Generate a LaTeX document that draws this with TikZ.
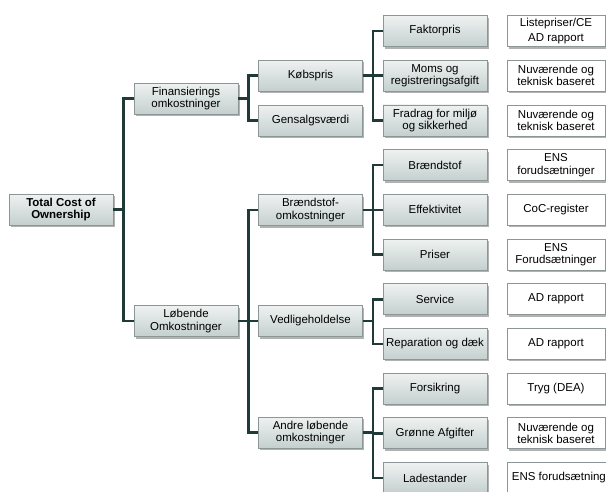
\documentclass[tikz,border=0pt]{standalone}
\usepackage{fontspec}
\setmainfont{Liberation Sans}
\usetikzlibrary{shadows}
\definecolor{linkcol}{RGB}{31,58,55}
\definecolor{boxtop}{RGB}{238,242,241}
\definecolor{boxbot}{RGB}{196,208,206}
\definecolor{boxline}{RGB}{140,150,150}
\tikzset{
	cell/.style={draw=boxline,line width=0.8pt,minimum width=104pt,minimum height=31pt,inner sep=1pt,align=center,
		font=\fontsize{11.5}{12.3}\selectfont,
		drop shadow={shadow xshift=1.5pt,shadow yshift=-2pt,opacity=0.3,fill=black}},
	part/.style={cell,top color=boxtop,bottom color=boxbot},
	source/.style={cell,fill=white,minimum width=98pt},
	link/.style={line width=2.6pt,draw=linkcol,line join=miter}
}

\begin{document}
\begin{tikzpicture}[x=1pt,y=-1pt]
		\useasboundingbox (0,0) rectangle (606,491);
		\clip (0,0) rectangle (606,491);
		% tree
		\node[part,font=\fontsize{11.5}{12.3}\selectfont\bfseries] (tco) at (61,209.5) {Total Cost of\\Ownership};
		\node[part] (fin) at (186,98.5) {Finansierings\\omkostninger};
		\node[part] (lob) at (186,321) {Løbende\\Omkostninger};
		\node[part] (kob) at (310.5,75.5) {Købspris};
		\node[part] (gen) at (310.5,120.5) {Gensalgsværdi};
		\node[part] (bro) at (310.5,210) {Brændstof-\\omkostninger};
		\node[part] (ved) at (310.5,321) {Vedligeholdelse};
		\node[part] (and) at (310.5,432.5) {Andre løbende\\omkostninger};
		\node[part] (fak) at (435,31) {Faktorpris};
		\node[part] (mom) at (435,75.7) {Moms og\\registreringsafgift};
		\node[part] (fra) at (435,120.4) {Fradrag for miljø\\og sikkerhed};
		\node[part] (brs) at (435,165.1) {Brændstof};
		\node[part] (eff) at (435,209.8) {Effektivitet};
		\node[part] (pri) at (435,254.5) {Priser};
		\node[part] (ser) at (435,299.2) {Service};
		\node[part] (rep) at (435,343.9) {Reparation og dæk};
		\node[part] (for) at (435,388.6) {Forsikring};
		\node[part] (gro) at (435,433.3) {Grønne Afgifter};
		\node[part] (lad) at (435,478) {Ladestander};
		% sources
		\node[source] (sfak) at (556,31) {Listepriser/CE\\[3pt]AD rapport};
		\node[source] (smom) at (556,75.7) {Nuværende og\\teknisk baseret};
		\node[source] (sfra) at (556,120.4) {Nuværende og\\teknisk baseret};
		\node[source] (sbrs) at (556,165.1) {ENS\\forudsætninger};
		\node[source] (seff) at (556,209.8) {CoC-register};
		\node[source] (spri) at (556,254.5) {ENS\\Forudsætninger};
		\node[source] (sser) at (556,299.2) {AD rapport};
		\node[source] (srep) at (556,343.9) {AD rapport};
		\node[source] (sfor) at (556,388.6) {Tryg (DEA)};
		\node[source] (sgro) at (556,433.3) {Nuværende og\\teknisk baseret};
		\node[source,minimum width=114pt] (slad) at (564,478) {ENS forudsætninger};
		% links
		\draw[link] (tco.east) -- ++(10,0) |- (fin.west);
		\draw[link] (tco.east) -- ++(10,0) |- (lob.west);
		\draw[link] (fin.east) -- ++(10,0) |- (kob.west);
		\draw[link] (fin.east) -- ++(10,0) |- (gen.west);
		\draw[link] (lob.east) -- ++(10,0) |- (bro.west);
		\draw[link] (lob.east) -- ++(10,0) |- (ved.west);
		\draw[link] (lob.east) -- ++(10,0) |- (and.west);
		\draw[link] (kob.east) -- ++(10,0) |- (fak.west);
		\draw[link] (kob.east) -- ++(10,0) |- (mom.west);
		\draw[link] (kob.east) -- ++(10,0) |- (fra.west);
		\draw[link] (bro.east) -- ++(10,0) |- (brs.west);
		\draw[link] (bro.east) -- ++(10,0) |- (eff.west);
		\draw[link] (bro.east) -- ++(10,0) |- (pri.west);
		\draw[link] (ved.east) -- ++(10,0) |- (ser.west);
		\draw[link] (ved.east) -- ++(10,0) |- (rep.west);
		\draw[link] (and.east) -- ++(10,0) |- (for.west);
		\draw[link] (and.east) -- ++(10,0) |- (gro.west);
		\draw[link] (and.east) -- ++(10,0) |- (lad.west);
	\end{tikzpicture}
\end{document}
